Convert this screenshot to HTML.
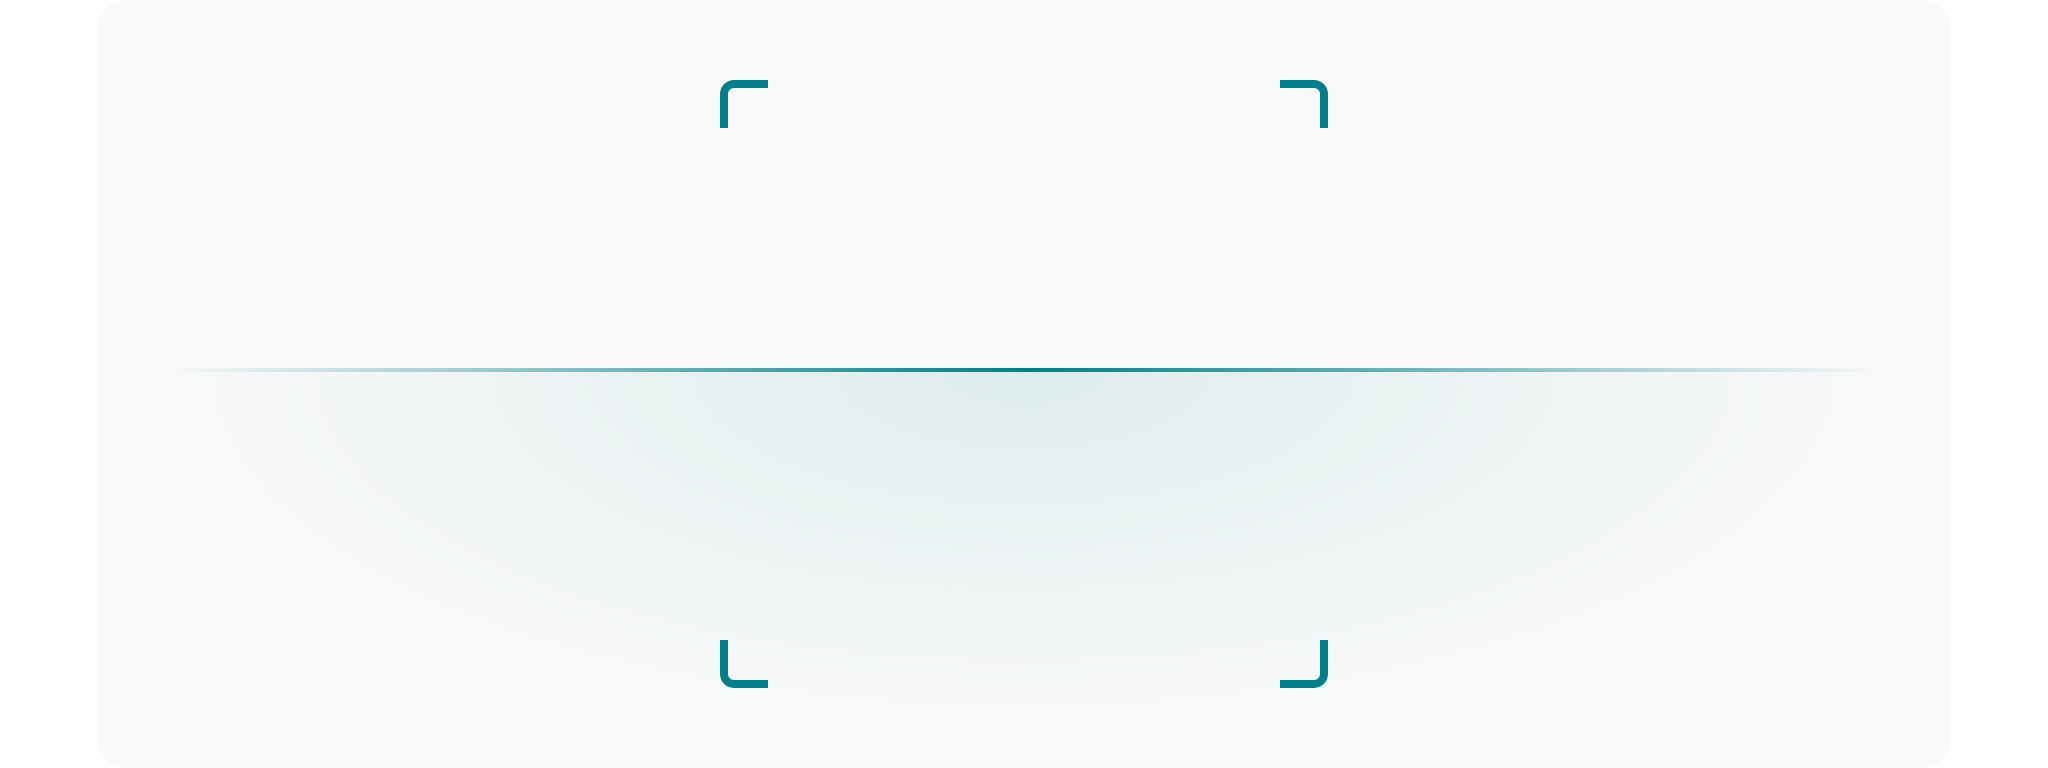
<!DOCTYPE html>
<html><head><meta charset="utf-8"><style>
html,body{margin:0;padding:0;background:#fff;width:2048px;height:768px;overflow:hidden}
.card{position:absolute;left:97px;top:0;width:1854px;height:768px;background:#f9f9f9;border-radius:30px;overflow:hidden}
.glow{position:absolute;left:97px;top:370px;width:1854px;height:398px;background:radial-gradient(ellipse 900px 370px at 927px 0px,rgba(0,128,138,0.11) 0%,rgba(0,128,138,0.05) 50%,rgba(0,128,138,0) 100%)}
.line{position:absolute;left:170px;top:368px;width:1710px;height:4px;background:linear-gradient(90deg,rgba(0,128,138,0),rgba(0,128,138,0.5) 25%,#00808a 50%,rgba(0,128,138,0.5) 75%,rgba(0,128,138,0))}
.br{position:absolute;width:40px;height:40px;border:8px solid #00808a;box-sizing:content-box}
</style></head><body>
<div class="card"></div>
<div class="glow"></div>
<div class="line"></div>
<div class="br" style="left:720px;top:80px;border-right:none;border-bottom:none;border-top-left-radius:14px"></div>
<div class="br" style="left:1280px;top:80px;border-left:none;border-bottom:none;border-top-right-radius:14px"></div>
<div class="br" style="left:720px;top:640px;border-right:none;border-top:none;border-bottom-left-radius:14px"></div>
<div class="br" style="left:1280px;top:640px;border-left:none;border-top:none;border-bottom-right-radius:14px"></div>
</body></html>
